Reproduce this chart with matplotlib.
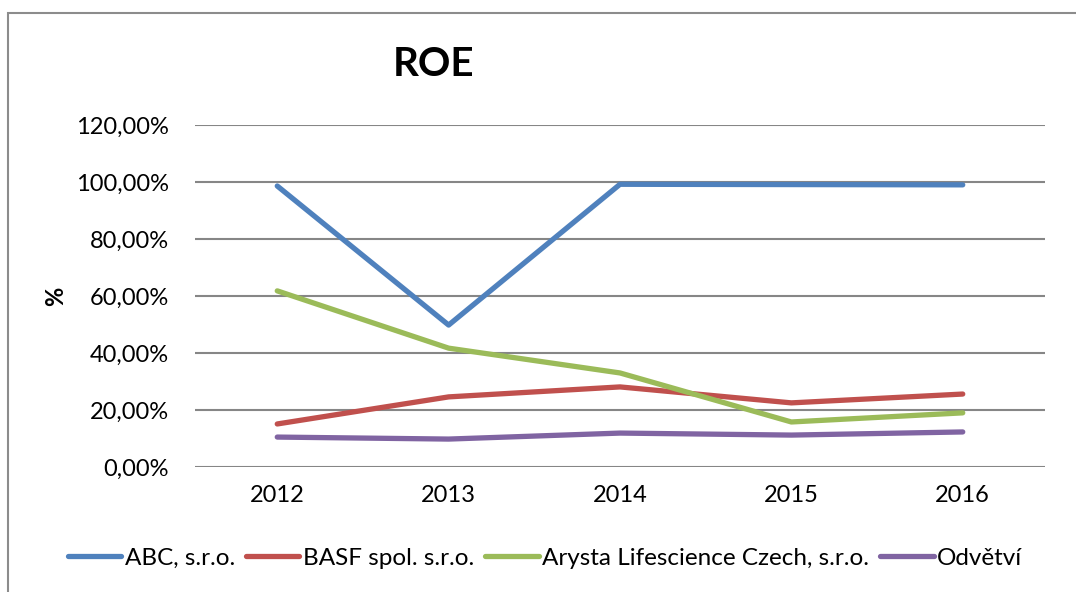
import numpy as np
import matplotlib
matplotlib.use("Agg")
import matplotlib.pyplot as plt
from matplotlib.patches import Rectangle
from matplotlib.ticker import FuncFormatter

years = ["2012", "2013", "2014", "2015", "2016"]
abc = [98.6, 49.8, 99.2, 99.1, 99.0]
basf = [15.1, 24.6, 28.1, 22.5, 25.6]
arysta = [61.8, 41.7, 33.0, 15.8, 19.0]
odvetvi = [10.5, 9.8, 11.9, 11.2, 12.3]

series = [
    ("ABC, s.r.o.", abc, "#4F81BD"),
    ("BASF spol. s.r.o.", basf, "#C0504D"),
    ("Arysta Lifescience Czech, s.r.o.", arysta, "#9BBB59"),
    ("Odvětví", odvetvi, "#8064A2"),
]

plt.rcParams["font.family"] = ["Lato", "DejaVu Sans"]

W, H = 1076, 592
fig = plt.figure(figsize=(W / 100, H / 100), dpi=100)
fig.patch.set_facecolor("white")

# outer chart frame (runs off the right and bottom edges)
fig.patches.append(Rectangle((8 / W, -0.05), 1.2, (H - 13) / H + 0.05,
                             transform=fig.transFigure, fill=False,
                             edgecolor="#8c8c8c", linewidth=1.5))

ax = fig.add_axes([195 / W, 1 - 467 / H, (1045 - 195) / W, (467 - 125) / H])
x = np.arange(len(years))
for name, vals, col in series:
    ax.plot(x, vals, color=col, linewidth=3.8, label=name,
            solid_capstyle="round", solid_joinstyle="round")

ax.set_xlim(-0.48, len(years) - 0.52)
ax.set_ylim(0, 120)
ax.set_yticks(np.arange(0, 121, 20))
ax.yaxis.set_major_formatter(FuncFormatter(lambda v, p: f"{v:.2f}".replace(".", ",") + "%"))
ax.set_xticks(x)
ax.set_xticklabels(years)
ax.yaxis.grid(True, color="#868686", linewidth=1.5)
ax.set_axisbelow(True)
for s in ax.spines.values():
    s.set_visible(False)
ax.tick_params(length=0, labelsize=17)
ax.tick_params(axis="y", pad=19)
ax.tick_params(axis="x", pad=13)

ax.set_ylabel("%", fontsize=17, fontweight="bold", labelpad=6)

fig.text(433 / W, 1 - 64 / H, "ROE", fontsize=29, fontweight="bold",
         ha="center", va="center")

fig.legend(loc="center", bbox_to_anchor=(545 / W, 1 - 558 / H), ncol=4,
           frameon=False, fontsize=17.5, handlelength=2.2, handletextpad=0.15,
           columnspacing=0.45)

fig.savefig("out.png", dpi=100)
